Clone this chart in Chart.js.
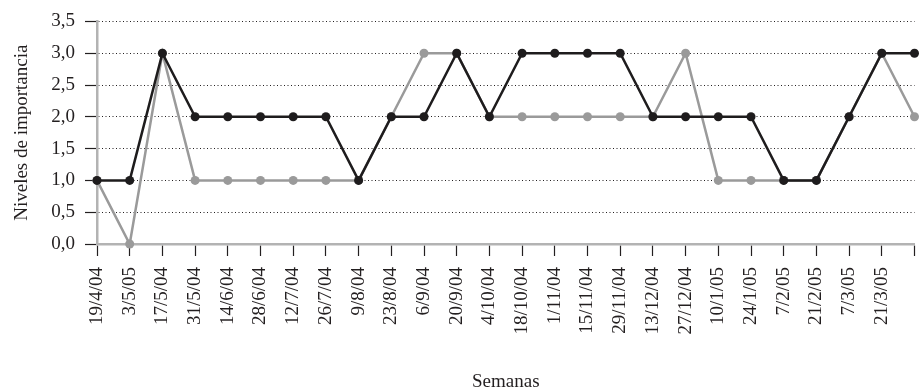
<!DOCTYPE html>
<html>
<head>
<meta charset="utf-8">
<script src="https://cdn.jsdelivr.net/npm/chart.js@4.4.1/dist/chart.umd.min.js"></script>
<style>
    html, body { margin: 0; padding: 0; background: #ffffff; }
    #wrap { width: 919px; height: 390px; }
</style>
</head>
<body>
<div id="wrap"><canvas id="nivelesChart"></canvas></div>
<script>
// semanas (la última no lleva etiqueta en el original)
const semanas = [
    "19/4/04", "3/5/05", "17/5/04", "31/5/04", "14/6/04", "28/6/04",
    "12/7/04", "26/7/04", "9/8/04", "23/8/04", "6/9/04", "20/9/04",
    "4/10/04", "18/10/04", "1/11/04", "15/11/04", "29/11/04", "13/12/04",
    "27/12/04", "10/1/05", "24/1/05", "7/2/05", "21/2/05", "7/3/05",
    "21/3/05", ""
];

const serieNegra = [1, 1, 3, 2, 2, 2, 2, 2, 1, 2, 2, 3, 2, 3, 3, 3, 3, 2, 2, 2, 2, 1, 1, 2, 3, 3];
const serieGris  = [1, 0, 3, 1, 1, 1, 1, 1, 1, 2, 3, 3, 2, 2, 2, 2, 2, 2, 3, 1, 1, 1, 1, 2, 3, 2];

const yMin = 0;
const yMax = 3.5;
const yPaso = 0.5;

const fuente = "'Liberation Serif', 'DejaVu Serif', serif";
const texto = "#231f20";
const ejeColor = "#b3b3b3";

function formatDecimal(v) {
    return v.toFixed(1).replace(".", ",");
}

const ctx = document.getElementById("nivelesChart").getContext("2d");

new Chart(ctx, {
    type: "line",
    data: {
        labels: semanas,
        datasets: [
            {
                label: "Serie 1",
                data: serieNegra,
                borderColor: "#1e1c1d",
                backgroundColor: "#1e1c1d",
                borderWidth: 2.5,
                pointRadius: 4.5,
                pointBorderWidth: 0,
                tension: 0,
            },
            {
                label: "Serie 2",
                data: serieGris,
                borderColor: "#9a9a9a",
                backgroundColor: "#9a9a9a",
                borderWidth: 2.5,
                pointRadius: 4.5,
                pointBorderWidth: 0,
                tension: 0,
            },
        ],
    },
    options: {
        responsive: true,
        maintainAspectRatio: false,
        animation: false,
        clip: false,
        layout: {
            padding: { top: 21, right: 3, bottom: 0, left: 0 },
        },
        plugins: {
            legend: { display: false },
            tooltip: { enabled: false },
        },
        scales: {
            x: {
                type: "category",
                offset: false,
                border: { color: ejeColor, width: 2.5 },
                grid: {
                    drawOnChartArea: false,
                    drawTicks: true,
                    tickLength: 12,
                    tickColor: texto,
                    tickWidth: 1.2,
                },
                ticks: {
                    autoSkip: false,
                    minRotation: 90,
                    maxRotation: 90,
                    padding: 11,
                    color: texto,
                    font: { family: fuente, size: 19 },
                },
                title: {
                    display: true,
                    text: "Semanas",
                    color: texto,
                    font: { family: fuente, size: 19 },
                    padding: { top: 0, bottom: -3 },
                },
                afterFit: function (scale) {
                    scale.height = 146;
                    scale.paddingRight = 0;
                },
            },
            y: {
                min: yMin,
                max: yMax,
                border: { color: ejeColor, width: 2.5, dash: [1, 2.5] },
                grid: {
                    color: texto,
                    lineWidth: 1,
                    drawTicks: true,
                    tickLength: 12,
                    tickColor: texto,
                    tickBorderDash: [],
                    tickWidth: 1.2,
                },
                ticks: {
                    stepSize: yPaso,
                    padding: 10,
                    color: texto,
                    font: { family: fuente, size: 19 },
                    callback: function (value) {
                        return formatDecimal(value);
                    },
                },
                title: {
                    display: true,
                    text: "Niveles de importancia",
                    color: texto,
                    font: { family: fuente, size: 19 },
                    padding: { top: 11, bottom: 0 },
                },
                afterFit: function (scale) {
                    scale.width = 97;
                },
            },
        },
    },
});
</script>
</body>
</html>
